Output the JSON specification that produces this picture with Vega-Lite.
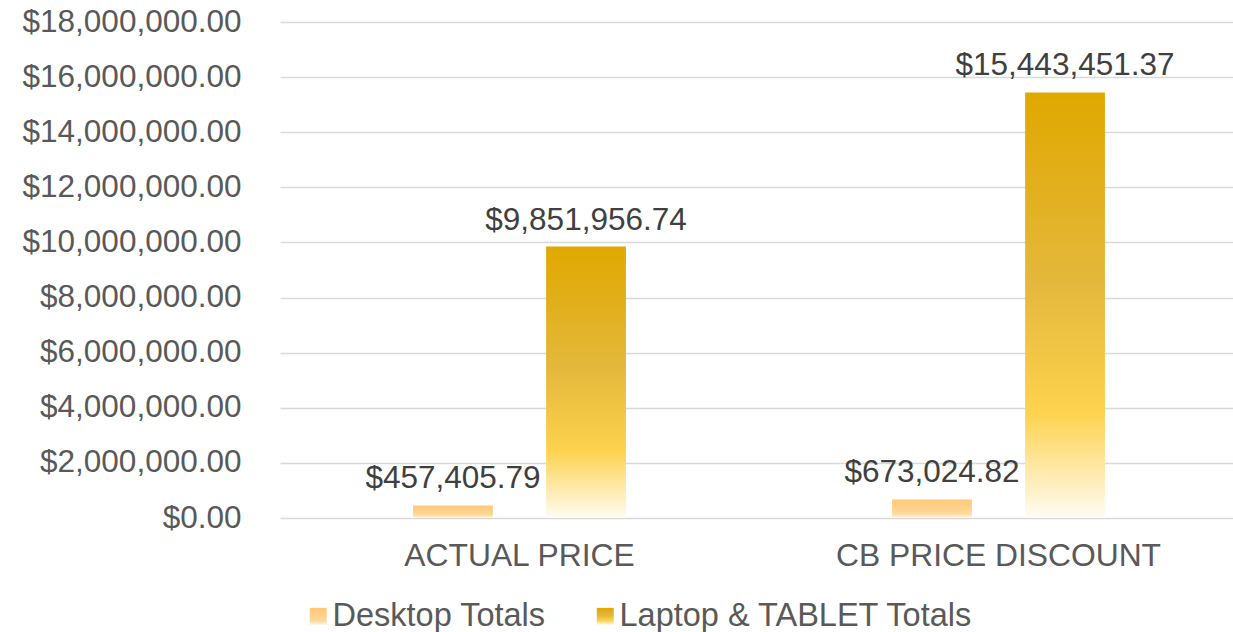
{
  "$schema": "https://vega.github.io/schema/vega-lite/v6.json",
  "width": 952,
  "height": 496,
  "autosize": "none",
  "padding": {"left": 280, "top": 22, "right": 1, "bottom": 114},
  "background": "#FFFFFF",
  "config": {
    "view": {"stroke": null},
    "font": "Liberation Sans"
  },
  "data": {
    "values": [
      {"category": "ACTUAL PRICE", "series": "Desktop Totals", "value": 457405.79},
      {"category": "ACTUAL PRICE", "series": "Laptop & TABLET Totals", "value": 9851956.74},
      {"category": "CB PRICE DISCOUNT", "series": "Desktop Totals", "value": 673024.82},
      {"category": "CB PRICE DISCOUNT", "series": "Laptop & TABLET Totals", "value": 15443451.37}
    ]
  },
  "encoding": {
    "x": {
      "field": "category",
      "type": "nominal",
      "sort": ["ACTUAL PRICE", "CB PRICE DISCOUNT"],
      "scale": {"paddingInner": 0, "paddingOuter": 0, "range": [0, 958]},
      "axis": {
        "title": null,
        "labelAngle": 0,
        "labelFont": "Liberation Sans",
        "labelFontSize": 31.8,
        "labelColor": "#595959",
        "labelPadding": 22,
        "labelLimit": 0,
        "ticks": false,
        "domain": false,
        "grid": false
      }
    },
    "xOffset": {
      "field": "series",
      "type": "nominal",
      "scale": {"domain": ["Desktop Totals", "Laptop & TABLET Totals"], "paddingInner": 0.4, "paddingOuter": 1.042}
    },
    "y": {
      "field": "value",
      "type": "quantitative",
      "scale": {"domain": [0, 18000000], "nice": false, "zero": true},
      "axis": {
        "title": null,
        "values": [0, 2000000, 4000000, 6000000, 8000000, 10000000, 12000000, 14000000, 16000000, 18000000],
        "format": "$,.2f",
        "labelFont": "Liberation Sans",
        "labelFontSize": 31.5,
        "labelColor": "#595959",
        "labelPadding": 39,
        "labelLimit": 0,
        "ticks": false,
        "domain": false,
        "grid": true,
        "gridColor": "#D9D9D9",
        "gridWidth": 1.5
      }
    }
  },
  "layer": [
    {
      "mark": {"type": "bar"},
      "encoding": {
        "color": {
          "field": "series",
          "type": "nominal",
          "scale": {
            "domain": ["Desktop Totals", "Laptop & TABLET Totals"],
            "range": [
              {"expr": "{gradient: 'linear', x1: 0, y1: 0, x2: 0, y2: 1, stops: [{offset: 0, color: '#FFC878'}, {offset: 0.75, color: '#FFD898'}, {offset: 1, color: '#FFF6EA'}]}"},
              {"expr": "{gradient: 'linear', x1: 0, y1: 0, x2: 0, y2: 1, stops: [{offset: 0, color: '#E0A800'}, {offset: 0.45, color: '#E4B83C'}, {offset: 0.75, color: '#FDD24D'}, {offset: 1, color: '#FFFCF3'}]}"}
            ]
          },
          "legend": {
            "title": null,
            "orient": "none",
            "legendX": 22,
            "legendY": 578,
            "direction": "horizontal",
            "symbolType": "square",
            "symbolSize": 289,
            "symbolStrokeWidth": 0,
            "symbolOpacity": 1,
            "labelFont": "Liberation Sans",
            "labelFontSize": 32.5,
            "labelColor": "#595959",
            "labelOffset": -2,
            "labelLimit": 0,
            "columnPadding": 43,
            "padding": 0
          }
        }
      }
    },
    {
      "mark": {
        "type": "text",
        "baseline": "alphabetic",
        "dy": -17,
        "font": "Liberation Sans",
        "fontSize": 31.5,
        "color": "#404040"
      },
      "encoding": {
        "text": {"field": "value", "type": "quantitative", "format": "$,.2f"}
      }
    }
  ]
}
